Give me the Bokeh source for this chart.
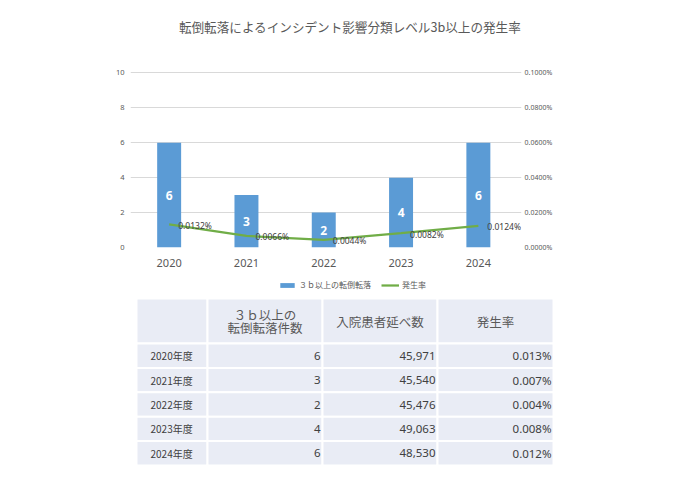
from bokeh.plotting import figure
from bokeh.models import (Range1d, LinearAxis, FixedTicker, NumeralTickFormatter,
                          Legend, LegendItem, Label, ColumnDataSource)
from bokeh.core.properties import value
from bokeh.embed import file_html
from bokeh.resources import INLINE

# ---- data ----
years = ["2020", "2021", "2022", "2023", "2024"]
counts = [6, 3, 2, 4, 6]
rates = [0.000132, 0.000066, 0.000044, 0.000082, 0.000124]   # fraction (0.0132% ...)
patients = [45971, 45540, 45476, 49063, 48530]
table_rate_pct = [0.013, 0.007, 0.004, 0.008, 0.012]
left_ticks = [0, 2, 4, 6, 8, 10]
right_ticks = [0, 0.0002, 0.0004, 0.0006, 0.0008, 0.001]
title_text = "転倒転落によるインシデント影響分類レベル3b以上の発生率"
bar_name = "３ｂ以上の転倒転落"
line_name = "発生率"
header_labels = ["", "３ｂ以上の\n転倒転落件数", "入院患者延べ数", "発生率"]

JP = "Noto Sans CJK JP"
LAT = "Noto Sans"
GREY = "#595959"
BAR_C = "#5b9bd5"
LINE_C = "#70ad47"
NAN = float("nan")

# ---- chart ----
# y range extends above 10 so the title fits inside the plot frame;
# x range extends slightly right so the last data label is not clipped
idx = list(range(len(years)))
p = figure(width=684, height=274, x_range=Range1d(-0.5, 4.558), y_range=Range1d(0, 13),
           output_backend="svg", toolbar_location=None,
           min_border_left=130, min_border_right=163, min_border_top=20, min_border_bottom=27)
p.outline_line_color = None
p.extra_y_ranges = {"rate": Range1d(0, 0.0013)}

p.yaxis.ticker = FixedTicker(ticks=left_ticks)
p.yaxis.axis_line_color = None
p.yaxis.major_tick_line_color = None
p.yaxis.minor_tick_line_color = None
p.yaxis.major_tick_out = 0
p.yaxis.major_label_text_font_size = "7.5px"
p.yaxis.major_label_text_color = GREY
p.yaxis.major_label_text_font = LAT
p.yaxis.major_label_standoff = 6

p.xaxis.ticker = FixedTicker(ticks=idx)
p.xaxis.major_label_overrides = {i: y for i, y in zip(idx, years)}
p.xaxis.axis_line_color = None
p.xaxis.major_tick_line_color = None
p.xaxis.minor_tick_line_color = None
p.xaxis.major_tick_out = 0
p.xaxis.major_label_text_font_size = "11px"
p.xaxis.major_label_text_color = GREY
p.xaxis.major_label_text_font = LAT
p.xaxis.major_label_standoff = 11

ra = LinearAxis(y_range_name="rate", ticker=FixedTicker(ticks=right_ticks),
                formatter=NumeralTickFormatter(format="0.0000%"))
ra.axis_line_color = None
ra.major_tick_line_color = None
ra.minor_tick_line_color = None
ra.major_tick_out = 0
ra.major_label_text_font_size = "7px"
ra.major_label_text_color = GREY
ra.major_label_text_font = LAT
ra.major_label_standoff = 3
p.add_layout(ra, "right")

p.xgrid.grid_line_color = None
p.ygrid.ticker = FixedTicker(ticks=left_ticks)
p.ygrid.grid_line_color = "#d9d9d9"

src = ColumnDataSource(dict(x=idx, c=counts, half=[c / 2 for c in counts],
                            ctext=[str(c) for c in counts], r=rates,
                            rtext=[f"{r * 100:.4f}%" for r in rates]))
p.vbar(x="x", top="c", width=0.31, source=src, fill_color=BAR_C, line_color=None)
p.line(x="x", y="r", source=src, y_range_name="rate", line_color=LINE_C, line_width=2.25)
p.text(x="x", y="half", text="ctext", source=src, text_color="white", text_font=value(LAT),
       text_font_style="bold", text_font_size="12px", text_align="center",
       text_baseline="middle")
p.text(x="x", y="r", text="rtext", source=src, y_range_name="rate", text_color="#404040",
       text_font=value(LAT), text_font_size="8.5px", text_align="left",
       text_baseline="middle", x_offset=9, y_offset=1)

p.add_layout(Label(x=2.34, y=12.65, text=title_text, text_font=JP, text_font_size="12.6px",
                   text_color=GREY, text_align="center", text_baseline="middle"))

# ---- table (with the chart legend on top) ----
T_H = 200
t = figure(width=684, height=T_H, x_range=Range1d(0, 684), y_range=Range1d(T_H, 0),
           output_backend="svg", toolbar_location=None, min_border=0)
t.axis.visible = False
t.grid.grid_line_color = None
t.outline_line_color = None

# legend swatches (same styles as the chart series; no visible data)
lg_bar = t.vbar(x=[NAN], top=[NAN], width=1, fill_color=BAR_C, line_color=None)
lg_line = t.line(x=[NAN], y=[NAN], line_color=LINE_C, line_width=2.25)
legend = Legend(items=[LegendItem(label=bar_name, renderers=[lg_bar]),
                       LegendItem(label=line_name, renderers=[lg_line])],
                orientation="horizontal", location=(278, T_H - 16),
                glyph_width=18, glyph_height=6, label_text_font=JP,
                label_text_font_size="8px", label_text_color=GREY, label_standoff=3,
                spacing=10, padding=0, margin=0, border_line_color=None,
                background_fill_alpha=0, label_height=10)
t.add_layout(legend)

col_edges = [136, 207, 322, 437, 553]
top0 = 24
head_h = 45
row_h = 24.4
nrows = len(years)

ql, qr, qt, qb = [], [], [], []
for r in range(nrows + 1):
    top = top0 if r == 0 else top0 + head_h + row_h * (r - 1)
    bot = top0 + head_h if r == 0 else top0 + head_h + row_h * r
    for c in range(4):
        ql.append(col_edges[c]); qr.append(col_edges[c + 1]); qt.append(top); qb.append(bot)
t.quad(left=ql, right=qr, top=qt, bottom=qb, fill_color="#e9ecf5", line_color="white",
       line_width=2)

hx, hy, ht = [], [], []
for c, lab in enumerate(header_labels):
    if not lab:
        continue
    lines = lab.split("\n")
    cx = (col_edges[c] + col_edges[c + 1]) / 2
    n = len(lines)
    for k, s in enumerate(lines):
        hx.append(cx)
        hy.append(top0 + head_h / 2 + (k - (n - 1) / 2) * 12.5)
        ht.append(s)
t.text(x=hx, y=hy, text=ht, text_font=value(JP), text_font_size="12.5px", text_color=GREY,
       text_align="center", text_baseline="middle")

rows_y = [top0 + head_h + row_h * (i + 0.5) for i in range(nrows)]
t.text(x=[col_edges[0] + 14] * nrows, y=rows_y, text=[y + "年度" for y in years],
       text_font=value(JP), text_font_size="10px", text_color="#404040",
       text_align="left", text_baseline="middle")
t.text(x=[col_edges[2] - 2] * nrows, y=rows_y, text=[str(c) for c in counts],
       text_font=value(LAT), text_font_size="11.5px", text_color="#404040",
       text_align="right", text_baseline="middle")
t.text(x=[col_edges[3] - 2] * nrows, y=rows_y, text=[f"{v:,}" for v in patients],
       text_font=value(LAT), text_font_size="11.5px", text_color="#404040",
       text_align="right", text_baseline="middle")
t.text(x=[col_edges[4] - 2] * nrows, y=rows_y, text=[f"{v:.3f}%" for v in table_rate_pct],
       text_font=value(LAT), text_font_size="11.5px", text_color="#404040",
       text_align="right", text_baseline="middle")

open("out.html", "w").write(file_html([p, t], INLINE))
